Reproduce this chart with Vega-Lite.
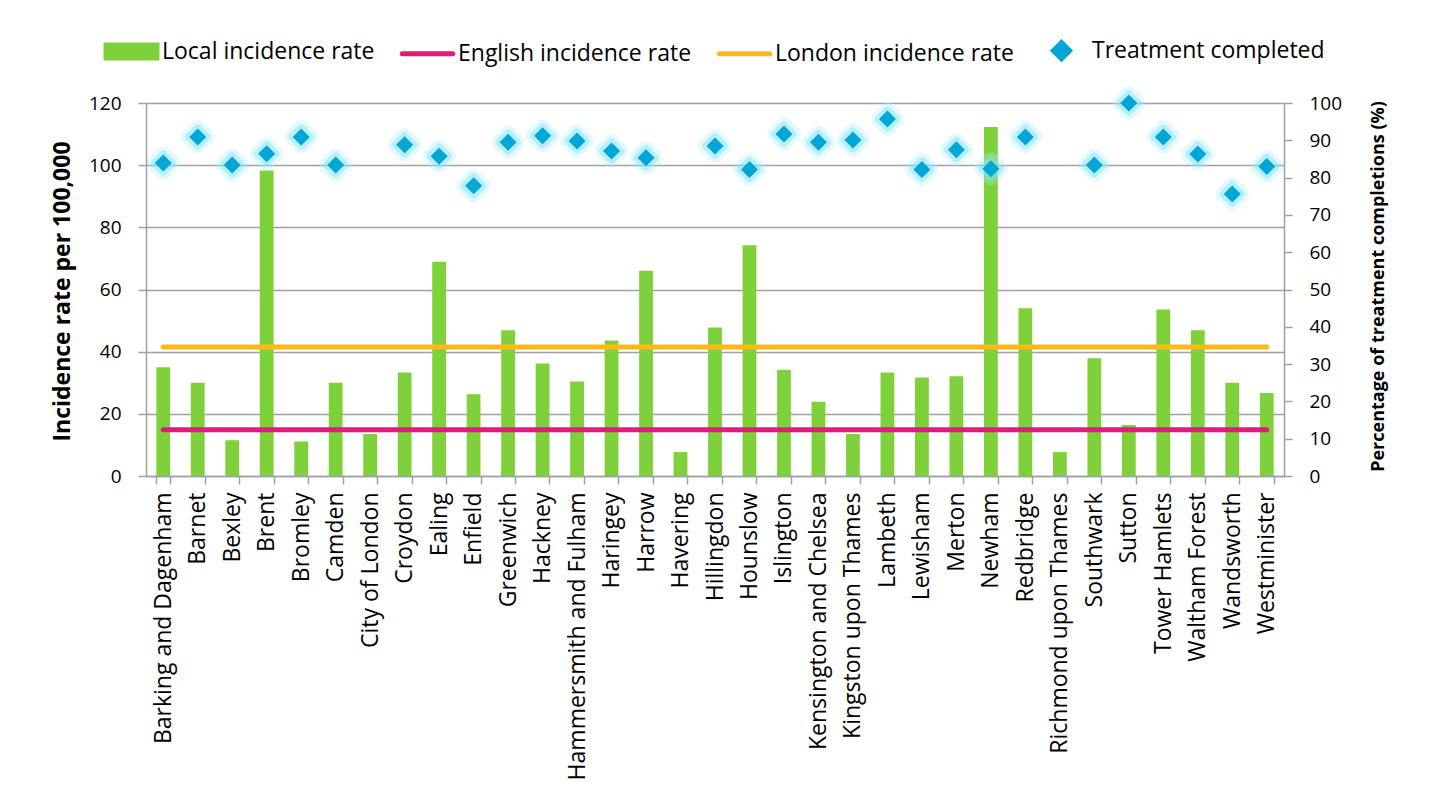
{
  "$schema": "https://vega.github.io/schema/vega-lite/v6.json",
  "width": 1138,
  "height": 373,
  "autosize": "none",
  "padding": {"left": 146, "top": 103, "right": 145, "bottom": 326},
  "background": "white",
  "config": {
    "view": {"stroke": null},
    "font": "Open Sans",
    "axis": {
      "labelFont": "Open Sans",
      "titleFont": "Open Sans",
      "labelColor": "#000000",
      "titleColor": "#000000",
      "domainColor": "#A0A0A0",
      "tickColor": "#A0A0A0",
      "gridColor": "#A0A0A0",
      "domainWidth": 1.5,
      "tickWidth": 1.5,
      "gridWidth": 1.5,
      "tickSize": 8
    }
  },
  "data": {
    "values": [
      {"borough": "Barking and Dagenham", "local": 35.0, "english": 14.9, "london": 41.5, "completed": 83.9},
      {"borough": "Barnet", "local": 30.0, "english": 14.9, "london": 41.5, "completed": 90.9},
      {"borough": "Bexley", "local": 11.5, "english": 14.9, "london": 41.5, "completed": 83.4},
      {"borough": "Brent", "local": 98.3, "english": 14.9, "london": 41.5, "completed": 86.4},
      {"borough": "Bromley", "local": 11.1, "english": 14.9, "london": 41.5, "completed": 90.9},
      {"borough": "Camden", "local": 30.0, "english": 14.9, "london": 41.5, "completed": 83.4},
      {"borough": "City of London", "local": 13.5, "english": 14.9, "london": 41.5, "completed": null},
      {"borough": "Croydon", "local": 33.3, "english": 14.9, "london": 41.5, "completed": 88.8},
      {"borough": "Ealing", "local": 68.9, "english": 14.9, "london": 41.5, "completed": 85.7},
      {"borough": "Enfield", "local": 26.3, "english": 14.9, "london": 41.5, "completed": 77.8},
      {"borough": "Greenwich", "local": 46.9, "english": 14.9, "london": 41.5, "completed": 89.5},
      {"borough": "Hackney", "local": 36.2, "english": 14.9, "london": 41.5, "completed": 91.2},
      {"borough": "Hammersmith and Fulham", "local": 30.4, "english": 14.9, "london": 41.5, "completed": 89.8},
      {"borough": "Haringey", "local": 43.6, "english": 14.9, "london": 41.5, "completed": 87.1},
      {"borough": "Harrow", "local": 66.0, "english": 14.9, "london": 41.5, "completed": 85.3},
      {"borough": "Havering", "local": 7.7, "english": 14.9, "london": 41.5, "completed": null},
      {"borough": "Hillingdon", "local": 47.8, "english": 14.9, "london": 41.5, "completed": 88.5},
      {"borough": "Hounslow", "local": 74.2, "english": 14.9, "london": 41.5, "completed": 82.2},
      {"borough": "Islington", "local": 34.2, "english": 14.9, "london": 41.5, "completed": 91.7},
      {"borough": "Kensington and Chelsea", "local": 23.9, "english": 14.9, "london": 41.5, "completed": 89.5},
      {"borough": "Kingston upon Thames", "local": 13.5, "english": 14.9, "london": 41.5, "completed": 90.1},
      {"borough": "Lambeth", "local": 33.3, "english": 14.9, "london": 41.5, "completed": 95.7},
      {"borough": "Lewisham", "local": 31.7, "english": 14.9, "london": 41.5, "completed": 82.2},
      {"borough": "Merton", "local": 32.1, "english": 14.9, "london": 41.5, "completed": 87.5},
      {"borough": "Newham", "local": 112.3, "english": 14.9, "london": 41.5, "completed": 82.4},
      {"borough": "Redbridge", "local": 54.0, "english": 14.9, "london": 41.5, "completed": 90.9},
      {"borough": "Richmond upon Thames", "local": 7.7, "english": 14.9, "london": 41.5, "completed": null},
      {"borough": "Southwark", "local": 37.9, "english": 14.9, "london": 41.5, "completed": 83.4},
      {"borough": "Sutton", "local": 16.4, "english": 14.9, "london": 41.5, "completed": 100},
      {"borough": "Tower Hamlets", "local": 53.6, "english": 14.9, "london": 41.5, "completed": 90.9},
      {"borough": "Waltham Forest", "local": 46.9, "english": 14.9, "london": 41.5, "completed": 86.3},
      {"borough": "Wandsworth", "local": 30.0, "english": 14.9, "london": 41.5, "completed": 75.6},
      {"borough": "Westminister", "local": 26.7, "english": 14.9, "london": 41.5, "completed": 83.0}
    ]
  },
  "encoding": {
    "x": {
      "field": "borough",
      "type": "nominal",
      "sort": null,
      "title": null,
      "scale": {"paddingInner": 0.6, "paddingOuter": 0.3},
      "axis": {
        "labelAngle": -90,
        "labelAlign": "right",
        "labelBaseline": "middle",
        "labelFontSize": 23,
        "labelPadding": 8,
        "labelLimit": 0,
        "tickBand": "extent",
        "labelOverlap": false
      }
    }
  },
  "layer": [
    {
      "layer": [
        {
          "mark": {"type": "bar", "color": "#7FD13B"},
          "encoding": {
            "y": {
              "field": "local",
              "type": "quantitative",
              "scale": {"domain": [0, 120], "nice": false},
              "axis": {
                "title": "Incidence rate per 100,000",
                "values": [0, 20, 40, 60, 80, 100, 120],
                "grid": true,
                "labelFontSize": 19,
                "labelPadding": 17,
                "labelOverlap": false,
                "titleFontSize": 23,
                "titleFontWeight": "bold",
                "titleAngle": 270,
                "titleAlign": "center",
                "titleBaseline": "middle",
                "titleX": -84,
                "titleY": 188
              }
            },
            "color": {
              "datum": "Local incidence rate",
              "scale": {
                "domain": ["Local incidence rate", "English incidence rate", "London incidence rate", "Treatment completed"],
                "range": ["#7FD13B", "#E8177C", "#FFB819", "#00A6D6"]
              },
              "legend": {
                "orient": "none",
                "legendX": -45,
                "legendY": -83,
                "direction": "horizontal",
                "title": null,
                "padding": 0,
                "symbolSize": 3136,
                "labelOffset": 0,
                "columnPadding": 17,
                "labelFont": "Open Sans",
                "labelFontSize": 23,
                "labelColor": "#000000",
                "labelLimit": 0,
                "encode": {
                  "symbols": {
                    "update": {
                      "shape": {"signal": "datum.value === 'Local incidence rate' ? 'M-0.91,-0.23H0.91V0.23H-0.91Z' : datum.value === 'Treatment completed' ? 'M0,-0.29L0.29,0L0,0.29L-0.29,0Z' : 'M-0.9,0H0.9'"},
                      "fill": {"signal": "datum.value === 'Local incidence rate' ? '#7FD13B' : datum.value === 'Treatment completed' ? '#00A6D6' : 'transparent'"},
                      "stroke": {"signal": "datum.value === 'English incidence rate' ? '#E8177C' : datum.value === 'London incidence rate' ? '#FFB819' : 'transparent'"},
                      "strokeWidth": {"value": 5},
                      "strokeCap": {"value": "round"},
                      "opacity": {"value": 1},
                      "fillOpacity": {"value": 1},
                      "strokeOpacity": {"value": 1}
                    }
                  }
                }
              }
            }
          }
        },
        {
          "mark": {"type": "line", "strokeWidth": 5, "strokeCap": "round"},
          "encoding": {
            "y": {"field": "english", "type": "quantitative"},
            "color": {"datum": "English incidence rate"}
          }
        },
        {
          "mark": {"type": "line", "strokeWidth": 5, "strokeCap": "round"},
          "encoding": {
            "y": {"field": "london", "type": "quantitative"},
            "color": {"datum": "London incidence rate"}
          }
        }
      ]
    },
    {
      "encoding": {
        "y": {
          "field": "completed",
          "type": "quantitative",
          "scale": {"domain": [0, 100], "nice": false},
          "axis": {
            "orient": "right",
            "title": "Percentage of treatment completions (%)",
            "values": [0, 10, 20, 30, 40, 50, 60, 70, 80, 90, 100],
            "tickCount": 11,
            "grid": false,
            "labelOverlap": false,
            "labelFontSize": 19,
            "labelPadding": 17,
            "titleFontSize": 18,
            "titleFontWeight": "bold",
            "titleAngle": 270,
            "titleAlign": "center",
            "titleBaseline": "middle",
            "titleX": 94,
            "titleY": 183
          }
        }
      },
      "layer": [
        {
          "mark": {"type": "point", "shape": "diamond", "size": 289, "filled": false, "stroke": "#A5EDFC", "strokeWidth": 16, "strokeOpacity": 0.45, "strokeJoin": "round"}
        },
        {
          "mark": {"type": "point", "shape": "diamond", "size": 289, "filled": false, "stroke": "#7FE4F9", "strokeWidth": 8, "strokeOpacity": 0.65, "strokeJoin": "round"}
        },
        {
          "mark": {"type": "point", "shape": "diamond", "size": 289, "filled": true, "opacity": 1},
          "encoding": {
            "color": {"datum": "Treatment completed"}
          }
        }
      ]
    }
  ],
  "resolve": {"scale": {"y": "independent"}, "axis": {"y": "independent"}}
}
